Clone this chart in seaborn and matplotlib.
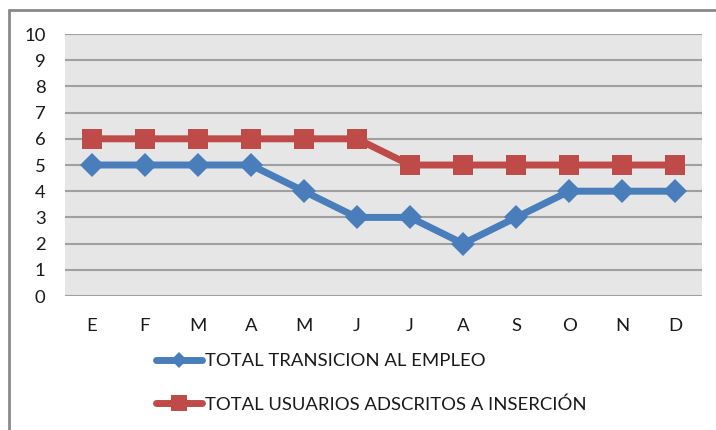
import matplotlib
matplotlib.use("Agg")
import matplotlib.pyplot as plt
import seaborn as sns
import pandas as pd
from matplotlib.lines import Line2D

# data
months = ["E", "F", "M", "A", "M", "J", "J", "A", "S", "O", "N", "D"]
transicion = [5, 5, 5, 5, 4, 3, 3, 2, 3, 4, 4, 4]
usuarios = [6, 6, 6, 6, 6, 6, 5, 5, 5, 5, 5, 5]
label_trans = "TOTAL TRANSICION AL EMPLEO"
label_users = "TOTAL USUARIOS ADSCRITOS A INSERCIÓN"

blue = "#4a7ebb"
red = "#be4b48"

sns.set_style("white")
plt.rcParams["font.family"] = ["Lato", "DejaVu Sans"]

df = pd.DataFrame({"idx": range(len(months)), "trans": transicion, "users": usuarios})

fig = plt.figure(figsize=(7.16, 4.30), dpi=100)
ax = fig.add_axes([0.0908, 0.3116, 0.8896, 0.6093])
ax.set_facecolor("#e6e6e6")

sns.lineplot(data=df, x="idx", y="trans", ax=ax, color=blue, lw=5,
             marker="D", markersize=12, markeredgewidth=0, zorder=3)
sns.lineplot(data=df, x="idx", y="users", ax=ax, color=red, lw=5,
             marker="s", markersize=15, markeredgewidth=0, zorder=4)

ax.set_xlim(-0.5, 11.5)
ax.set_ylim(0, 10)
ax.set_yticks(range(0, 11))
ax.set_xticks(range(len(months)))
ax.set_xticklabels(months)
ax.yaxis.grid(True, color="#a0a0a0", lw=1.5)
ax.set_axisbelow(True)
for s in ax.spines.values():
    s.set_visible(False)
ax.tick_params(axis="both", length=0, labelsize=13.3, colors="#1a1a1a")
ax.tick_params(axis="y", pad=14)
ax.tick_params(axis="x", pad=16)
ax.set_xlabel("")
ax.set_ylabel("")

handles = [
    Line2D([], [], color=blue, lw=5, marker="D", markersize=8, markeredgewidth=0),
    Line2D([], [], color=red, lw=5, marker="s", markersize=11, markeredgewidth=0),
]
fig.legend(handles, [label_trans, label_users], loc="upper left",
           bbox_to_anchor=(0.205, 0.2), frameon=False, fontsize=13.3,
           handlelength=2.5, handletextpad=0.15, labelspacing=1.45,
           borderpad=0, labelcolor="#1a1a1a")

# outer chart border (top and left visible in reference)
fig.add_artist(Line2D([0.0126, 0.0126], [0.0, 0.977], color="#8a8a8a", lw=2,
                      transform=fig.transFigure))
fig.add_artist(Line2D([0.0126, 1.0], [0.977, 0.977], color="#8a8a8a", lw=2,
                      transform=fig.transFigure))

fig.savefig("out.png", dpi=100)
